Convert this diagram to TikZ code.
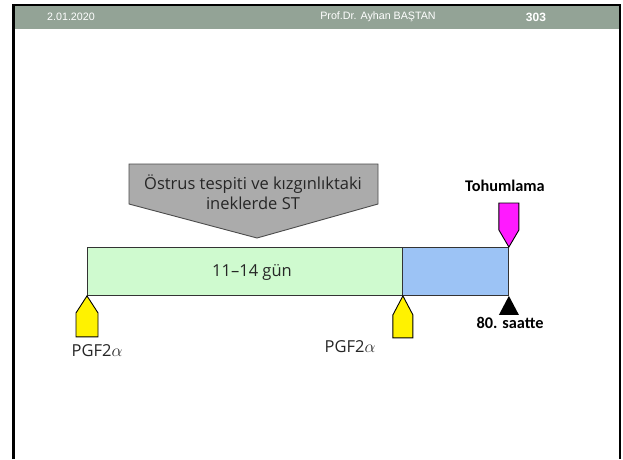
\documentclass[tikz,border=0pt]{standalone}
\usepackage{fontspec}
\setmainfont{Open Sans}
\newfontfamily\hdrfont{Liberation Sans}
\newfontfamily\calfont{Carlito}
\definecolor{hdr}{HTML}{93A396}
\definecolor{graybox}{HTML}{ABABAB}
\definecolor{mint}{HTML}{CFFACF}
\definecolor{skyb}{HTML}{9CC3F5}
\definecolor{mag}{HTML}{FF1AFF}
\tikzset{
  px/.style={x=1pt,y=-1pt},
  hdrtext/.style={text=white,font=\hdrfont\fontsize{10.7}{12}\selectfont,inner sep=0pt},
  bar/.style={draw=black!80,line width=0.9pt,inner sep=0pt},
  marker/.style={draw=black,line width=0.9pt},
  lbl/.style={font=\fontsize{16.5}{19}\selectfont,inner sep=0pt,text=black!85},
  boldlbl/.style={font=\calfont\bfseries\fontsize{16.3}{18}\selectfont,inner sep=0pt}
}
\begin{document}
\begin{tikzpicture}[px]
\useasboundingbox (0,0) rectangle (623,459);
\fill[white] (0,0) rectangle (623,459);
% header band and frame
\fill[hdr] (13,5) rectangle (620,29);
\draw[line width=2.6pt] (13.3,459) -- (13.3,5) -- (620,5) -- (620,459);
\node[hdrtext] (date) at (71,17) {2.01.2020};
\node[hdrtext] (auth) at (378,17) {Prof.Dr. Ayhan BAŞTAN};
\node[hdrtext,font=\hdrfont\bfseries\fontsize{12}{13}\selectfont] (page) at (536,17) {303};
% bars
\node[bar,fill=mint,minimum width=315pt,minimum height=48pt,anchor=north west] (green) at (87,247) {};
\node[bar,fill=skyb,minimum width=106pt,minimum height=48pt,anchor=north west] (blue) at (402,247) {};
\node[lbl] (days) at (252,272) {11–14 gün};
% gray callout
\draw[draw=black!70,line width=0.9pt,fill=graybox] (129,164) -- (378,164) -- (378,204) -- (257,238) -- (129,204) -- cycle;
\node[lbl,align=center,font=\fontsize{16.5}{19.5}\selectfont] (callout) at (253,192) {Östrus tespiti ve kızgınlıktaki\\ineklerde ST};
% yellow markers
\coordinate (y1) at (green.south west);
\draw[marker,fill=yellow] (y1) -- ++(11,17) -- ++(0,24) -- ++(-22,0) -- ++(0,-24) -- cycle;
\node[lbl] (p1) at (97,351) {PGF2$\alpha$};
\coordinate (y2) at (green.south east);
\draw[marker,fill=yellow] (y2) -- ++(10,19) -- ++(0,23) -- ++(-20,0) -- ++(0,-23) -- cycle;
\node[lbl] (p2) at (350,347) {PGF2$\alpha$};
% magenta marker
\coordinate (m1) at (blue.north east);
\draw[marker,fill=mag] (m1) -- ++(10,-17) -- ++(0,-27) -- ++(-20,0) -- ++(0,27) -- cycle;
\node[boldlbl] (toh) at (505,186) {Tohumlama};
% black triangle
\coordinate (b1) at (blue.south east);
\fill[black] (b1) -- ++(10,19) -- ++(-20,0) -- cycle;
\node[boldlbl] (h80) at (510,323) {80. saatte};
\end{tikzpicture}
\end{document}
